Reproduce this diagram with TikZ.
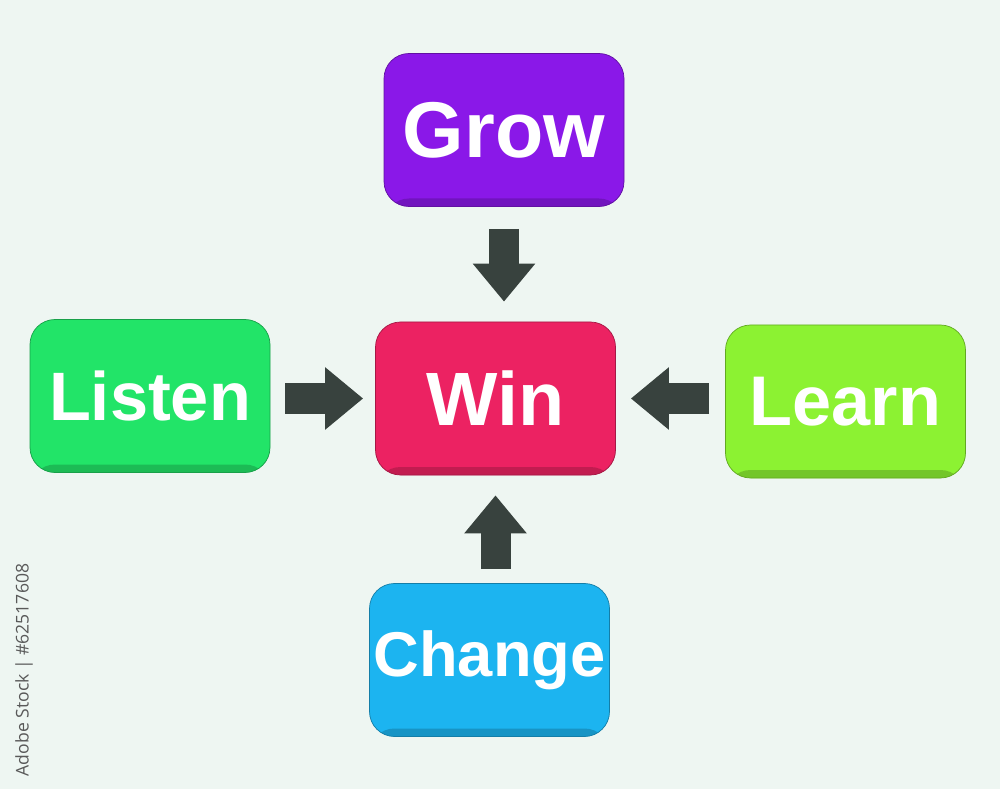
\documentclass[tikz,border=0pt]{standalone}
\usepackage{fontspec}
\setmainfont{Liberation Sans}
\newfontfamily\stockfont{Open Sans}
\usetikzlibrary{arrows.meta}

\definecolor{bgmint}{RGB}{238,246,242}
\definecolor{arrowgray}{RGB}{56,66,62}
\definecolor{growcol}{RGB}{138,24,232}
\definecolor{wincol}{RGB}{236,34,98}
\definecolor{listencol}{RGB}{34,228,104}
\definecolor{learncol}{RGB}{140,242,50}
\definecolor{changecol}{RGB}{28,180,240}

\begin{document}
\begin{tikzpicture}[
    tile/.style={rounded corners=0.5cm, minimum width=4.8cm, minimum height=3.06cm,
        inner sep=0pt, fill=#1, draw=#1!70!black, line width=0.4pt, text=white,
        path picture={\fill[#1!82!black] (path picture bounding box.south west)
            rectangle ([yshift=0.16cm]path picture bounding box.south east);}},
    conn/.style={draw=arrowgray, line width=0.6cm,
        -{Triangle[width=1.2cm,length=0.76cm]}}
  ]
    \fill [color=bgmint] (0,0) rectangle (20,15.78);
    \useasboundingbox (0,0) rectangle (20,15.78);

    \node[tile=growcol, font=\bfseries\fontsize{45}{45}\selectfont] (grow) at (10.08,13.18) {Grow};
    \node[tile=wincol, font=\bfseries\fontsize{43}{43}\selectfont] (win) at (9.91,7.81) {Win};
    \node[tile=listencol, font=\bfseries\fontsize{39}{39}\selectfont] (listen) at (3.0,7.86) {Listen};
    \node[tile=learncol, font=\bfseries\fontsize{40}{40}\selectfont] (learn) at (16.91,7.75) {Learn};
    \node[tile=changecol, font=\bfseries\fontsize{36}{36}\selectfont] (change) at (9.79,2.58) {Change};

    % arrows into the centre
    \draw[conn, shorten <=0.44cm, shorten >=0.4cm] (grow.south) -- (grow.south |- win.north);
    \draw[conn, shorten <=0.3cm, shorten >=0.24cm] (listen.east |- win) -- (win.west);
    \draw[conn, shorten <=0.32cm, shorten >=0.3cm] (learn.west |- win) -- (win.east);
    \draw[conn, shorten <=0.28cm, shorten >=0.4cm] (change.north -| win) -- (win.south);

    \node[rotate=90, text=black!65, font=\stockfont\fontsize{10}{10}\selectfont] (stock) at (0.48,2.38) {Adobe Stock | \#62517608};
\end{tikzpicture}
\end{document}
